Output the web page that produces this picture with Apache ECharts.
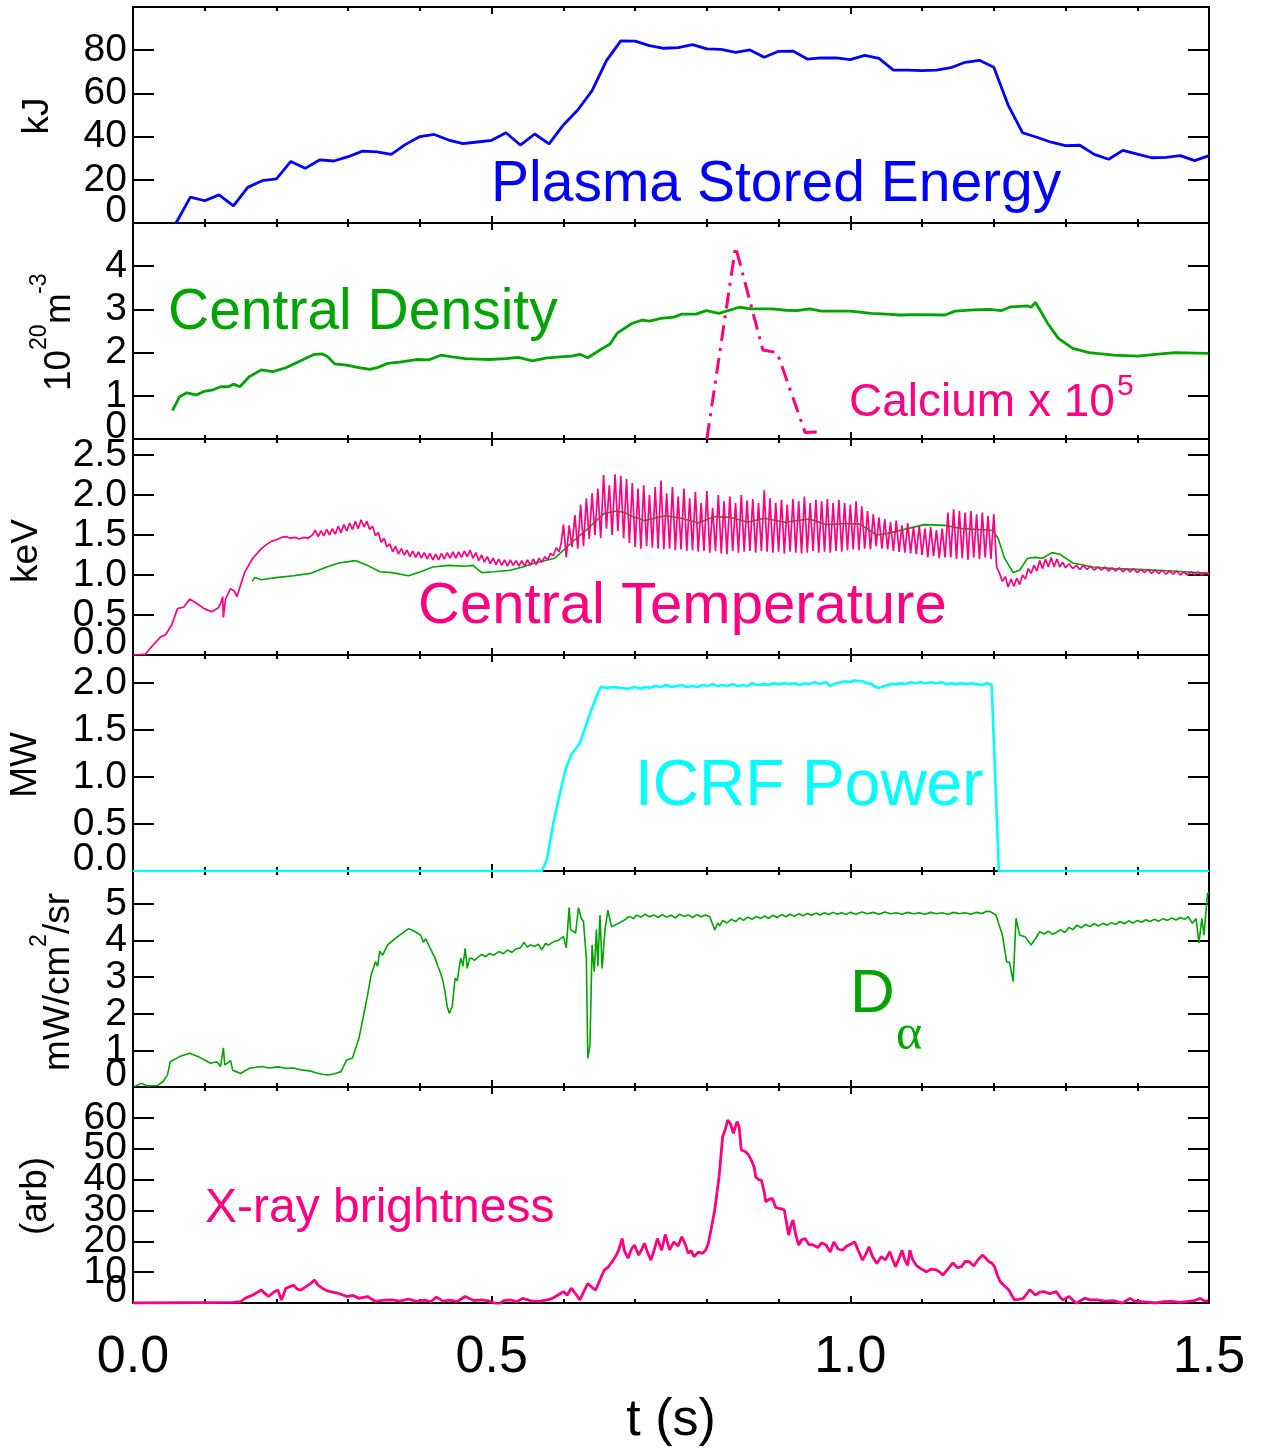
<!DOCTYPE html>
<html><head><meta charset="utf-8">
<script src="https://cdn.jsdelivr.net/npm/echarts@6/dist/echarts.min.js"></script>
<style>html,body{margin:0;padding:0;background:#fff}#c{width:1265px;height:1452px}</style>
</head><body><div id="c"></div>
<script>
// ---------------- DATA ----------------
const storedEnergy = [[0.06,0],[0.08,12],[0.10,10.3],[0.12,13],[0.14,7.9],[0.16,16.5],[0.18,19.6],[0.20,20.4],[0.22,28.5],[0.24,25.3],[0.26,29.2],[0.28,28.7],[0.30,30.7],[0.32,33.3],[0.34,32.9],[0.36,31.8],[0.38,36.4],[0.40,40],[0.42,41],[0.44,38.4],[0.46,36.7],[0.48,37.5],[0.50,38.3],[0.52,41.8],[0.54,36.1],[0.56,41.2],[0.58,36.6],[0.60,45.4],[0.62,52.3],[0.64,61.3],[0.66,75.2],[0.68,84.3],[0.70,84.2],[0.72,82.1],[0.74,80.9],[0.76,81.2],[0.78,82.6],[0.80,80.6],[0.82,80.4],[0.84,79],[0.86,80.1],[0.88,76.7],[0.90,79.5],[0.92,79.6],[0.94,75.9],[0.96,76.4],[0.98,76.4],[1.00,75.6],[1.02,77.6],[1.04,76.2],[1.06,70.8],[1.08,70.8],[1.10,70.5],[1.12,70.8],[1.14,71.9],[1.16,74.4],[1.18,75.3],[1.20,72.1],[1.22,54.6],[1.24,41.8],[1.26,39.7],[1.28,37.4],[1.30,35.8],[1.32,36],[1.34,31.8],[1.36,29.5],[1.38,33.6],[1.40,31.9],[1.42,30.2],[1.44,30.4],[1.46,31.2],[1.48,28.9],[1.50,31.2]];

const centralDensity = [[0.055,0.66],[0.065,0.98],[0.075,1.07],[0.088,1.02],[0.099,1.10],[0.110,1.13],[0.122,1.21],[0.133,1.21],[0.140,1.27],[0.149,1.21],[0.162,1.44],[0.179,1.60],[0.195,1.56],[0.213,1.65],[0.236,1.83],[0.253,1.96],[0.264,1.97],[0.272,1.90],[0.281,1.74],[0.298,1.71],[0.315,1.65],[0.330,1.61],[0.342,1.66],[0.355,1.75],[0.372,1.78],[0.395,1.84],[0.412,1.83],[0.429,1.94],[0.445,1.90],[0.463,1.86],[0.480,1.85],[0.497,1.84],[0.520,1.86],[0.537,1.89],[0.557,1.81],[0.575,1.87],[0.595,1.90],[0.611,1.92],[0.623,1.96],[0.634,1.88],[0.651,2.06],[0.665,2.20],[0.675,2.45],[0.696,2.68],[0.710,2.75],[0.720,2.73],[0.736,2.79],[0.754,2.82],[0.765,2.89],[0.785,2.89],[0.799,2.97],[0.817,2.91],[0.845,3.05],[0.862,3.01],[0.891,3.01],[0.910,2.98],[0.926,2.97],[0.943,3.01],[0.960,2.96],[1.000,2.96],[1.029,2.91],[1.050,2.89],[1.069,2.87],[1.092,2.88],[1.132,2.87],[1.146,2.96],[1.172,2.99],[1.195,3.00],[1.210,2.97],[1.224,3.06],[1.247,3.08],[1.252,3.05],[1.258,3.16],[1.267,2.91],[1.275,2.68],[1.290,2.33],[1.310,2.10],[1.333,2.00],[1.367,1.94],[1.401,1.92],[1.425,1.96],[1.453,2.00],[1.499,1.98]];

const calcium = [[0.800,0],[0.840,4.45],[0.878,2.06],[0.898,2.0],[0.937,0.15],[0.960,0.17]];

const tempEce = [[0.166,0.92],[0.170,0.97],[0.179,0.94],[0.202,0.97],[0.224,0.99],[0.247,1.02],[0.270,1.10],[0.287,1.15],[0.310,1.18],[0.327,1.12],[0.344,1.04],[0.361,1.03],[0.384,0.99],[0.401,1.04],[0.418,1.10],[0.440,1.12],[0.463,1.11],[0.474,1.12],[0.486,1.03],[0.503,1.04],[0.526,1.06],[0.543,1.10],[0.560,1.15],[0.588,1.21],[0.611,1.40],[0.634,1.58],[0.657,1.77],[0.674,1.80],[0.686,1.78],[0.696,1.73],[0.713,1.68],[0.742,1.74],[0.765,1.71],[0.788,1.65],[0.811,1.73],[0.834,1.72],[0.857,1.66],[0.880,1.71],[0.908,1.66],[0.943,1.70],[0.966,1.63],[0.990,1.64],[1.012,1.64],[1.023,1.58],[1.037,1.50],[1.052,1.52],[1.080,1.58],[1.103,1.63],[1.132,1.62],[1.155,1.58],[1.198,1.56],[1.206,1.46],[1.215,1.21],[1.227,1.03],[1.236,1.06],[1.247,1.21],[1.258,1.22],[1.268,1.21],[1.281,1.28],[1.292,1.26],[1.310,1.15],[1.338,1.10],[1.367,1.08],[1.40,1.07],[1.45,1.05],[1.50,1.02]];

const tempCentral = [[0.0,0.0],[0.017,0.01],[0.028,0.125],[0.039,0.23],[0.045,0.25],[0.054,0.375],[0.062,0.58],[0.071,0.60],[0.079,0.70],[0.088,0.65],[0.099,0.58],[0.110,0.54],[0.119,0.59],[0.123,0.66],[0.125,0.73],[0.126,0.47],[0.129,0.70],[0.136,0.83],[0.141,0.80],[0.145,0.73],[0.150,0.875],[0.156,1.04],[0.167,1.21],[0.179,1.33],[0.186,1.38],[0.193,1.42],[0.200,1.44],[0.207,1.47],[0.213,1.48],[0.220,1.46],[0.226,1.47],[0.232,1.45],[0.238,1.47],[0.244,1.46],
[0.250,1.50],[0.254,1.56],[0.258,1.48],[0.262,1.55],[0.266,1.49],[0.270,1.57],[0.274,1.50],[0.278,1.58],[0.282,1.51],[0.286,1.61],[0.290,1.53],[0.294,1.63],[0.298,1.55],[0.302,1.65],[0.306,1.57],[0.310,1.67],[0.314,1.58],[0.318,1.69],[0.322,1.60],[0.326,1.67],[0.330,1.57],[0.334,1.61],[0.338,1.49],[0.342,1.53],[0.346,1.41],[0.350,1.46],[0.354,1.35],[0.358,1.39],[0.362,1.29],[0.366,1.36],[0.370,1.26],[0.374,1.33],[0.378,1.25],[0.382,1.31],[0.386,1.23],[0.390,1.30],[0.394,1.22],[0.398,1.29],[0.402,1.21],[0.406,1.28],[0.410,1.20],[0.414,1.27],[0.418,1.19],[0.422,1.26],[0.426,1.19],[0.430,1.27],[0.434,1.20],[0.438,1.28],[0.442,1.21],[0.446,1.29],[0.450,1.21],[0.454,1.29],[0.458,1.22],[0.462,1.30],[0.466,1.23],[0.470,1.31],[0.474,1.21],[0.478,1.28],[0.482,1.18],[0.486,1.25],[0.490,1.16],[0.494,1.23],[0.498,1.14],[0.502,1.21],[0.506,1.13],[0.510,1.20],[0.514,1.12],[0.518,1.19],[0.522,1.11],[0.526,1.19],[0.530,1.12],[0.534,1.18],[0.538,1.11],[0.542,1.18],[0.546,1.11],[0.550,1.19],[0.554,1.12],[0.558,1.20],[0.562,1.13],[0.566,1.21],[0.570,1.16],[0.574,1.23],[0.578,1.19],[0.582,1.27],[0.586,1.24],[0.590,1.34],[0.594,1.29],[0.597,1.40],
[0.600,1.63],[0.604,1.22],[0.608,1.62],[0.612,1.35],[0.616,1.75],[0.620,1.33],[0.624,1.88],[0.628,1.36],[0.632,1.96],[0.636,1.45],[0.640,2.02],[0.644,1.50],[0.648,2.08],[0.652,1.46],[0.656,2.25],[0.660,1.58],[0.664,2.12],[0.668,1.50],[0.672,2.26],[0.676,1.55],[0.680,2.24],[0.684,1.46],[0.688,2.20],[0.692,1.40],[0.696,2.15],[0.700,1.35],[0.704,2.08],[0.708,1.33],[0.712,2.12],[0.716,1.36],[0.720,2.00],[0.724,1.34],[0.728,2.10],[0.732,1.33],[0.736,2.18],[0.740,1.32],[0.744,2.02],[0.748,1.33],[0.752,2.10],[0.756,1.31],[0.760,1.98],[0.764,1.32],[0.768,2.08],[0.772,1.30],[0.776,1.96],[0.780,1.31],[0.784,2.04],[0.788,1.29],[0.792,1.90],[0.796,1.30],[0.800,2.05],[0.804,1.28],[0.808,1.84],[0.812,1.30],[0.816,2.00],[0.820,1.27],[0.824,1.92],[0.828,1.26],[0.832,1.98],[0.836,1.30],[0.840,1.90],[0.844,1.28],[0.848,2.00],[0.852,1.29],[0.856,1.93],[0.860,1.30],[0.864,1.95],[0.868,1.28],[0.872,1.90],[0.876,1.30],[0.880,2.06],[0.884,1.29],[0.888,1.96],[0.892,1.28],[0.896,1.90],[0.900,1.29],[0.904,1.94],[0.908,1.27],[0.912,1.88],[0.916,1.29],[0.920,1.95],[0.924,1.28],[0.928,1.92],[0.932,1.27],[0.936,1.98],[0.940,1.28],[0.944,1.90],[0.948,1.30],[0.952,1.94],[0.956,1.28],[0.960,1.92],[0.964,1.29],[0.968,1.95],[0.972,1.28],[0.976,1.90],[0.980,1.30],[0.984,1.94],[0.988,1.29],[0.992,1.90],[0.996,1.31],[1.000,1.88],[1.004,1.32],[1.008,1.92],[1.012,1.31],[1.016,1.86],[1.020,1.33],[1.024,1.80],[1.028,1.32],[1.032,1.76],[1.036,1.36],[1.040,1.72],[1.044,1.33],[1.048,1.70],[1.052,1.32],[1.056,1.66],[1.060,1.30],[1.064,1.68],[1.068,1.29],[1.072,1.62],[1.076,1.28],[1.080,1.65],[1.084,1.27],[1.088,1.60],[1.092,1.26],[1.096,1.62],[1.100,1.25],[1.104,1.58],[1.108,1.22],[1.112,1.60],[1.116,1.24],[1.120,1.56],[1.124,1.21],[1.128,1.58],[1.132,1.22],[1.136,1.78],[1.140,1.22],[1.144,1.82],[1.148,1.20],[1.152,1.80],[1.156,1.21],[1.160,1.78],[1.164,1.19],[1.168,1.80],[1.172,1.22],[1.176,1.76],[1.180,1.20],[1.184,1.78],[1.188,1.22],[1.192,1.74],[1.196,1.20],[1.200,1.76],[1.204,1.10],[1.208,1.02],[1.212,0.92],[1.216,0.98],[1.220,0.85],[1.224,0.95],[1.228,0.86],[1.232,0.96],[1.236,0.88],[1.240,1.00],[1.244,0.95],[1.248,1.08],[1.252,1.02],[1.256,1.12],[1.260,1.05],[1.264,1.18],[1.268,1.08],[1.272,1.20],[1.276,1.10],[1.280,1.22],[1.284,1.10],[1.288,1.20],[1.292,1.10],[1.296,1.16],[1.300,1.09],[1.305,1.14],[1.31,1.08],[1.315,1.12],[1.32,1.07],[1.325,1.12],[1.33,1.07],[1.335,1.11],[1.34,1.06],[1.345,1.10],[1.35,1.06],[1.355,1.10],[1.36,1.05],[1.365,1.09],[1.37,1.05],[1.375,1.09],[1.38,1.04],[1.385,1.08],[1.39,1.04],[1.395,1.08],[1.40,1.03],[1.405,1.07],[1.41,1.03],[1.415,1.07],[1.42,1.02],[1.425,1.06],[1.43,1.02],[1.435,1.06],[1.44,1.01],[1.445,1.05],[1.45,1.01],[1.455,1.05],[1.46,1.00],[1.465,1.04],[1.47,1.00],[1.475,1.04],[1.48,1.00],[1.485,1.04],[1.49,1.00],[1.495,1.03],[1.50,1.01]];

const icrfPower = [[0,0],[0.570,0],[0.577,0.12],[0.586,0.51],[0.594,0.79],[0.603,1.08],[0.611,1.24],[0.623,1.36],[0.634,1.61],[0.645,1.84],[0.652,1.96],[0.661,1.95],[0.670,1.96],[0.679,1.95],[0.690,1.94],[0.700,1.96],[0.708,1.94],[0.714,1.96],[0.720,1.95],[0.728,1.97],[0.736,1.96],[0.743,1.98],[0.750,1.96],[0.758,1.97],[0.765,1.98],[0.772,1.96],[0.780,1.97],[0.787,1.96],[0.794,1.98],[0.801,1.97],[0.808,1.99],[0.815,1.97],[0.822,1.98],[0.829,1.97],[0.836,1.99],[0.843,1.97],[0.851,1.98],[0.857,1.97],[0.863,2.00],[0.871,1.98],[0.880,1.99],[0.886,1.98],[0.893,2.00],[0.900,1.99],[0.908,2.00],[0.915,1.99],[0.922,2.00],[0.929,1.98],[0.937,2.00],[0.943,1.99],[0.950,2.01],[0.958,1.99],[0.966,2.01],[0.972,1.97],[0.980,2.00],[0.987,2.01],[0.994,2.02],[1.000,2.01],[1.005,2.03],[1.011,2.02],[1.017,2.02],[1.024,2.00],[1.030,1.99],[1.035,1.96],[1.040,1.95],[1.048,1.97],[1.057,1.99],[1.064,1.99],[1.070,2.00],[1.077,1.99],[1.084,2.01],[1.091,2.00],[1.098,2.01],[1.105,2.00],[1.112,2.01],[1.120,2.00],[1.127,2.01],[1.134,1.99],[1.141,2.00],[1.148,1.99],[1.155,2.00],[1.162,1.99],[1.169,2.00],[1.176,1.99],[1.184,1.98],[1.190,2.00],[1.197,1.98],[1.207,0],[1.50,0]];

const dAlpha = [[0.002,0.01],[0.011,0.1],[0.020,0.03],[0.034,0.04],[0.042,0.15],[0.048,0.33],[0.052,0.69],[0.065,0.83],[0.079,0.92],[0.093,0.81],[0.108,0.65],[0.117,0.69],[0.122,0.56],[0.126,1.07],[0.128,0.6],[0.132,0.66],[0.136,0.72],[0.139,0.46],[0.150,0.37],[0.162,0.51],[0.179,0.56],[0.190,0.52],[0.202,0.55],[0.213,0.51],[0.224,0.52],[0.236,0.46],[0.247,0.44],[0.256,0.38],[0.264,0.35],[0.272,0.33],[0.281,0.36],[0.290,0.42],[0.298,0.74],[0.306,0.79],[0.315,1.33],[0.327,2.51],[0.332,3.06],[0.338,3.42],[0.341,3.30],[0.344,3.71],[0.348,3.60],[0.355,3.88],[0.367,4.08],[0.378,4.24],[0.384,4.32],[0.389,4.29],[0.395,4.22],[0.401,4.15],[0.405,3.95],[0.408,4.05],[0.412,3.88],[0.421,3.52],[0.425,3.30],[0.429,3.10],[0.432,2.9],[0.435,2.60],[0.438,2.2],[0.441,2.01],[0.445,2.2],[0.449,2.97],[0.452,2.9],[0.455,3.29],[0.457,3.52],[0.460,3.3],[0.463,3.79],[0.466,3.24],[0.469,3.5],[0.472,3.52],[0.476,3.46],[0.480,3.53],[0.486,3.62],[0.492,3.56],[0.497,3.65],[0.503,3.60],[0.510,3.70],[0.516,3.64],[0.522,3.74],[0.528,3.68],[0.534,3.77],[0.540,3.80],[0.545,3.95],[0.550,3.82],[0.554,3.88],[0.560,3.84],[0.565,3.90],[0.570,3.75],[0.575,3.92],[0.580,3.88],[0.583,3.93],[0.588,3.98],[0.592,4.0],[0.600,4.11],[0.604,3.80],[0.608,4.90],[0.610,4.3],[0.614,4.25],[0.617,4.2],[0.621,4.9],[0.625,4.60],[0.628,4.52],[0.632,3.5],[0.634,0.78],[0.637,1.14],[0.640,3.88],[0.643,3.15],[0.646,4.3],[0.648,3.3],[0.651,4.70],[0.654,3.24],[0.658,4.3],[0.662,4.83],[0.667,4.38],[0.675,4.45],[0.685,4.56],[0.692,4.66],[0.698,4.60],[0.702,4.70],[0.708,4.64],[0.714,4.72],[0.720,4.65],[0.726,4.70],[0.732,4.63],[0.738,4.71],[0.744,4.64],[0.750,4.69],[0.756,4.62],[0.762,4.72],[0.768,4.66],[0.774,4.70],[0.780,4.63],[0.786,4.71],[0.792,4.65],[0.798,4.70],[0.804,4.65],[0.808,4.45],[0.811,4.29],[0.815,4.48],[0.818,4.40],[0.822,4.55],[0.828,4.48],[0.834,4.58],[0.840,4.52],[0.846,4.62],[0.851,4.55],[0.857,4.64],[0.863,4.58],[0.869,4.66],[0.875,4.60],[0.880,4.67],[0.886,4.61],[0.892,4.69],[0.898,4.63],[0.904,4.71],[0.910,4.65],[0.916,4.72],[0.922,4.66],[0.928,4.73],[0.934,4.68],[0.940,4.74],[0.946,4.69],[0.952,4.75],[0.958,4.70],[0.964,4.76],[0.970,4.71],[0.976,4.77],[0.982,4.72],[0.988,4.76],[0.994,4.71],[1.000,4.77],[1.008,4.72],[1.016,4.78],[1.024,4.73],[1.032,4.77],[1.040,4.72],[1.048,4.78],[1.056,4.73],[1.064,4.76],[1.072,4.72],[1.080,4.77],[1.088,4.73],[1.096,4.76],[1.104,4.72],[1.112,4.77],[1.120,4.73],[1.128,4.76],[1.136,4.72],[1.144,4.77],[1.152,4.73],[1.160,4.76],[1.168,4.72],[1.176,4.77],[1.184,4.74],[1.190,4.80],[1.195,4.79],[1.203,4.70],[1.212,4.15],[1.218,3.42],[1.222,3.40],[1.227,2.88],[1.231,4.61],[1.236,4.15],[1.244,4.10],[1.252,3.88],[1.258,4.05],[1.264,4.24],[1.270,4.18],[1.276,4.26],[1.282,4.17],[1.287,4.22],[1.293,4.30],[1.299,4.22],[1.305,4.36],[1.310,4.30],[1.316,4.42],[1.322,4.35],[1.328,4.44],[1.334,4.38],[1.340,4.46],[1.346,4.40],[1.352,4.47],[1.358,4.42],[1.364,4.49],[1.370,4.44],[1.376,4.52],[1.382,4.46],[1.388,4.54],[1.394,4.48],[1.400,4.55],[1.406,4.50],[1.412,4.57],[1.418,4.52],[1.424,4.58],[1.430,4.53],[1.436,4.60],[1.442,4.55],[1.448,4.62],[1.454,4.56],[1.460,4.63],[1.466,4.58],[1.471,4.65],[1.477,4.47],[1.482,4.6],[1.486,3.93],[1.490,4.61],[1.493,4.15],[1.498,5.29],[1.500,5.3]];

const xray = [[0,0],[0.139,0.2],[0.150,0.4],[0.156,1.5],[0.167,2.6],[0.179,4.2],[0.184,3.1],[0.189,2.1],[0.196,3.5],[0.202,4.2],[0.207,1.0],[0.213,4.8],[0.224,5.8],[0.229,4.5],[0.234,4.2],[0.241,5.3],[0.247,6.2],[0.253,7.4],[0.258,5.8],[0.264,4.8],[0.270,4.0],[0.275,3.7],[0.287,3.1],[0.298,2.1],[0.306,2.5],[0.315,1.5],[0.327,2.1],[0.338,0.5],[0.350,0.9],[0.361,1.0],[0.372,0.6],[0.384,1.3],[0.395,0.5],[0.407,0.9],[0.415,0.4],[0.423,1.9],[0.432,0.6],[0.441,0.9],[0.452,0.5],[0.463,2.1],[0.475,0.8],[0.486,1.0],[0.497,0.6],[0.509,-0.5],[0.517,0.8],[0.526,1.0],[0.535,0.4],[0.543,1.5],[0.555,0.7],[0.566,0.5],[0.575,0.9],[0.583,1.3],[0.592,2.5],[0.600,3.7],[0.605,2.5],[0.611,4.8],[0.617,3.0],[0.623,1.0],[0.628,3.5],[0.634,6.3],[0.640,5.0],[0.645,4.2],[0.651,7.5],[0.657,10.7],[0.662,11.5],[0.668,13.4],[0.673,15.2],[0.677,17.1],[0.682,20.9],[0.685,17.0],[0.690,14.5],[0.695,17.5],[0.699,18.8],[0.705,15.5],[0.710,17.8],[0.713,19.3],[0.718,16.0],[0.722,13.9],[0.727,17.5],[0.731,20.9],[0.737,17.1],[0.742,22.2],[0.748,17.2],[0.754,19.8],[0.760,18.5],[0.765,21.5],[0.770,19.0],[0.774,16.1],[0.778,17.0],[0.782,15.0],[0.788,16.5],[0.794,16.1],[0.798,17.0],[0.802,19.3],[0.806,24.0],[0.811,30.1],[0.817,40.9],[0.822,53.9],[0.826,56.5],[0.829,59.3],[0.833,58.0],[0.837,55.0],[0.842,58.8],[0.845,57.0],[0.848,49.6],[0.854,49.0],[0.858,48.0],[0.862,46.3],[0.866,44.0],[0.868,40.9],[0.872,40.0],[0.876,39.8],[0.880,36.0],[0.882,32.8],[0.886,33.5],[0.891,33.9],[0.896,31.0],[0.900,30.7],[0.904,30.5],[0.908,30.1],[0.911,26.0],[0.914,22.0],[0.917,25.0],[0.920,26.9],[0.924,22.0],[0.928,18.8],[0.932,20.5],[0.937,20.9],[0.942,19.0],[0.948,18.8],[0.955,18.0],[0.960,19.5],[0.966,18.8],[0.972,16.5],[0.977,19.8],[0.983,17.5],[0.989,17.1],[0.995,18.5],[1.000,19.0],[1.006,19.8],[1.011,17.0],[1.017,13.9],[1.022,16.0],[1.026,18.2],[1.031,15.0],[1.037,12.8],[1.043,15.0],[1.049,14.0],[1.055,16.6],[1.059,14.0],[1.063,11.8],[1.068,14.5],[1.072,17.1],[1.076,14.0],[1.080,12.2],[1.083,17.1],[1.087,14.0],[1.092,12.2],[1.099,11.0],[1.106,10.1],[1.113,11.0],[1.120,10.7],[1.125,10.0],[1.129,9.0],[1.136,11.0],[1.143,13.0],[1.149,11.5],[1.155,11.8],[1.160,13.5],[1.166,13.4],[1.172,12.0],[1.178,14.0],[1.184,15.5],[1.189,14.5],[1.193,13.4],[1.197,13.0],[1.201,11.8],[1.205,9.0],[1.209,6.9],[1.215,5.5],[1.221,4.2],[1.225,2.5],[1.229,1.0],[1.235,1.2],[1.241,1.5],[1.246,3.0],[1.250,4.3],[1.254,3.5],[1.258,2.6],[1.264,3.5],[1.270,3.7],[1.278,3.0],[1.287,3.7],[1.292,2.0],[1.296,1.0],[1.305,2.1],[1.310,1.0],[1.315,-0.1],[1.321,0.8],[1.327,1.5],[1.335,1.0],[1.344,1.0],[1.355,0.6],[1.367,0.8],[1.379,0.0],[1.390,1.5],[1.396,0.6],[1.402,0.5],[1.413,0.3],[1.425,0.0],[1.436,0.4],[1.448,0.5],[1.460,0.2],[1.471,0.5],[1.480,0.8],[1.488,1.5],[1.494,0.6],[1.499,0.8]];

const xTickLabels = ['0.0','0.5','1.0','1.5'];
const zeroLabels = ['0','0','0.0','0.0','0','0'];
const yTitles = ['kJ','keV','MW','(arb)'];

// ---------------- LAYOUT ----------------
const FONT = '"Liberation Sans", Arial, Helvetica, sans-serif';
const SERIF = '"Liberation Serif", "Times New Roman", serif';
const L = 133, W = 1076, TOP = 7, H = 216;
const BLUE = '#0000ff', GREEN = '#00a400', PINK = '#ff0080', CYAN = '#00ffff';
const TICKFS = 39;
const yCfg = [
  {min:0, max:100, interval:20, dec:0},
  {min:0, max:5, interval:1, dec:0},
  {min:0, max:2.7, interval:0.5, dec:1},
  {min:0, max:2.3, interval:0.5, dec:1},
  {min:0, max:5.9, interval:1, dec:0},
  {min:0, max:70, interval:10, dec:0}
];

const grids = [], xAxes = [], yAxes = [];
const black = {color:'#000', width:2};
yCfg.forEach((c, i) => {
  grids.push({left:L, top:TOP + H*i, width:W, height:H, containLabel:false});
  ['bottom','top'].forEach(pos => {
    const isLabelAxis = (pos === 'bottom' && i === 5);
    xAxes.push({
      type:'value', gridIndex:i, position:pos, min:0, max:1.5, interval:0.5,
      axisLine:{show:true, onZero:false, lineStyle:black},
      axisTick:{show:true, inside:true, length:7, lineStyle:black},
      minorTick:{show:true, splitNumber:5, length:4, lineStyle:black},
      splitLine:{show:false}, minorSplitLine:{show:false},
      axisLabel:{show:isLabelAxis, showMinLabel:true, showMaxLabel:true, hideOverlap:false,
        fontSize:52, fontFamily:FONT, color:'#000', margin:29,
        formatter: v => xTickLabels[Math.round(v/0.5)]}
    });
  });
  ['left','right'].forEach(pos => {
    yAxes.push({
      type:'value', gridIndex:i, position:pos, min:c.min, max:c.max, interval:c.interval,
      axisLine:{show:true, onZero:false, lineStyle:black},
      axisTick:{show:true, inside:true, length:21, lineStyle:black},
      splitLine:{show:false},
      axisLabel:{show:pos==='left', showMinLabel:false, showMaxLabel:false, hideOverlap:false,
        fontSize:TICKFS, fontFamily:FONT, color:'#000', margin:6,
        formatter: v => v.toFixed(c.dec)}
    });
  });
});

function line(i, data, color, width, extra) {
  return Object.assign({type:'line', xAxisIndex:2*i, yAxisIndex:2*i, data:data, symbol:'none', showSymbol:false,
    animation:false, clip:true, lineStyle:{color:color, width:width}}, extra || {});
}
const series = [
  line(0, storedEnergy, BLUE, 2.8),
  line(1, centralDensity, GREEN, 2.8),
  line(1, calcium, PINK, 3, {lineStyle:{color:PINK, width:3, type:[16,7,3,7]}}),
  line(2, tempEce, GREEN, 1.6),
  line(2, tempCentral, PINK, 1.7),
  line(3, icrfPower, CYAN, 2.6),
  line(4, dAlpha, GREEN, 1.6),
  line(5, xray, PINK, 2.8)
];

function txt(text, x, y, size, color, opts) {
  const o = opts || {};
  return {type:'text', x:x, y:y, rotation:o.rot || 0, z:100,
    style:{text:text, fontSize:size, fontFamily:o.family || FONT, fill:color,
      align:o.align || 'left', textAlign:o.align || 'left', verticalAlign:'middle', textVerticalAlign:'middle'}};
}
const R = Math.PI/2;
const graphics = [
  // y-axis titles
  txt(yTitles[0], 38, 116, 37, '#000', {rot:R, align:'center'}),
  txt('10', 60, 391, 37, '#000', {rot:R}),
  txt('20', 40, 350, 23, '#000', {rot:R}),
  txt('m', 60, 324, 37, '#000', {rot:R}),
  txt('-3', 40, 294, 23, '#000', {rot:R}),
  txt(yTitles[1], 27, 551, 37, '#000', {rot:R, align:'center'}),
  txt(yTitles[2], 26, 765, 37, '#000', {rot:R, align:'center'}),
  txt('mW/cm', 59, 1071, 37, '#000', {rot:R}),
  txt('2', 40, 947, 23, '#000', {rot:R}),
  txt('/sr', 59, 934, 37, '#000', {rot:R}),
  txt(yTitles[3], 36, 1196, 37, '#000', {rot:R, align:'center'}),
  // x-axis title
  txt('t (s)', 671, 1421, 52, '#000', {align:'center'}),
  // annotations
  txt('Plasma Stored Energy', 491, 185, 57, BLUE),
  txt('Central Density', 168, 313, 57, GREEN),
  txt('Calcium x 10', 849, 403, 46, PINK),
  txt('5', 1117, 387, 30, PINK),
  txt('Central Temperature', 418, 607, 58, PINK),
  txt('ICRF Power', 635, 787, 64, CYAN),
  txt('D', 850, 995, 62, GREEN),
  txt('\u03b1', 896, 1036, 50, GREEN, {family:SERIF}),
  txt('X-ray brightness', 205, 1209, 48, PINK)
];
// raised zero tick labels at the bottom of each panel (as in the reference)
zeroLabels.forEach((s, i) => graphics.push(txt(s, L - 6, TOP + H*(i+1) - 12, TICKFS, '#000', {align:'right'})));

const chart = echarts.init(document.getElementById('c'), null, {renderer:'canvas'});
chart.setOption({
  animation:false,
  backgroundColor:'#fff',
  grid:grids, xAxis:xAxes, yAxis:yAxes, series:series, graphic:graphics
});
</script>
</body></html>
